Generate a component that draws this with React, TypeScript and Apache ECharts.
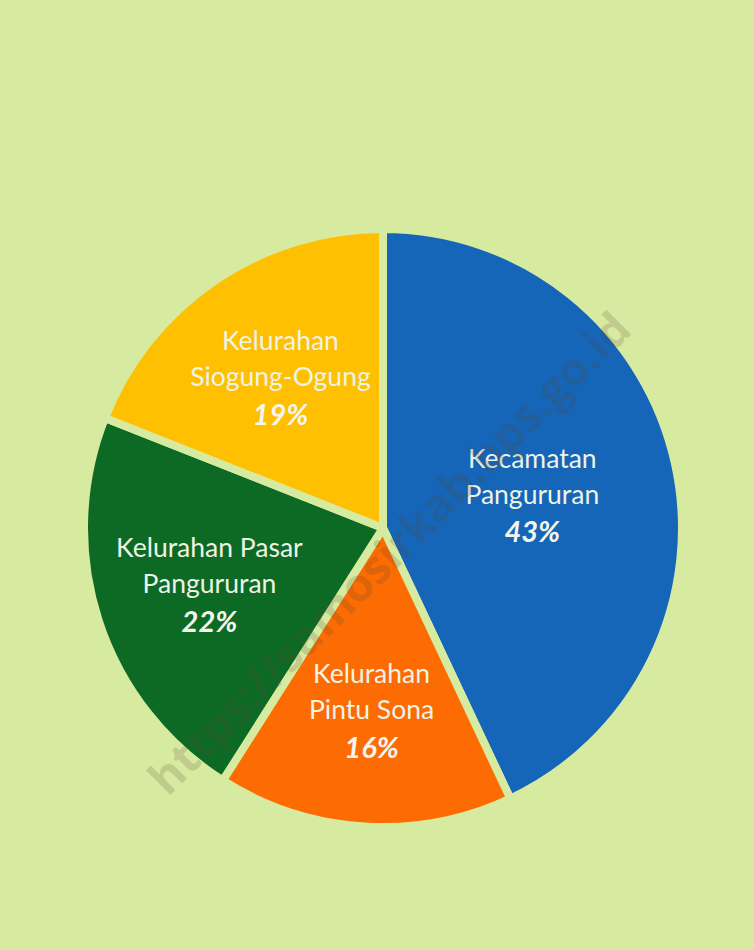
import React, { useEffect, useRef } from "react";
import * as echarts from "echarts";

const categories = [
  "Kecamatan\nPangururan",
  "Kelurahan\nPintu Sona",
  "Kelurahan Pasar\nPangururan",
  "Kelurahan\nSiogung-Ogung",
];
const values = [43, 16, 22, 19];
const colors = ["#1565b8", "#fd6b03", "#0d6a25", "#fec000"];
const watermark = "https://samosirkab.bps.go.id";
const BG = "#d7eba0";

export default function App() {
  const ref = useRef<HTMLDivElement>(null);
  useEffect(() => {
    document.body.style.margin = "0";
    const chart = echarts.init(ref.current!, null, { renderer: "svg" });
    const center = [383, 528];
    const labelRich = {
      n: { fontFamily: "Lato", fontSize: 26.5, color: "#eef3e6", lineHeight: 36, align: "center" },
      p: { fontFamily: "Lato", fontSize: 29, fontWeight: "bold", fontStyle: "italic", color: "#f4f6ee", lineHeight: 38, align: "center" },
    };
    const labelData = (showIdx: (i: number) => boolean) =>
      categories.map((c, i) => ({
        name: c,
        value: values[i],
        label: { show: showIdx(i) },
      }));
    const fmt = (p: any) => `{n|${p.name.replace("\n", "}\n{n|")}}\n{p|${p.value}%}`;
    chart.setOption({
      animation: false,
      backgroundColor: BG,
      series: [
        {
          type: "pie",
          center,
          radius: [0, 299],
          startAngle: 90,
          clockwise: true,
          silent: true,
          label: { show: false },
          labelLine: { show: false },
          itemStyle: { borderColor: BG, borderWidth: 8 },
          data: categories.map((c, i) => ({ name: c, value: values[i], itemStyle: { color: colors[i] } })),
        },
        {
          type: "pie",
          center,
          radius: [120, 180],
          startAngle: 90,
          silent: true,
          itemStyle: { color: "transparent" },
          labelLine: { show: false },
          label: { position: "inside", formatter: fmt, rich: labelRich },
          data: labelData((i) => i === 0),
        },
        {
          type: "pie",
          center,
          radius: [140, 219],
          startAngle: 90,
          silent: true,
          itemStyle: { color: "transparent" },
          labelLine: { show: false },
          label: { position: "inside", formatter: fmt, rich: labelRich },
          data: labelData((i) => i !== 0),
        },
      ],
      graphic: [
        {
          type: "text",
          x: 388,
          y: 552,
          rotation: Math.PI / 4,
          z: 100,
          silent: true,
          style: {
            text: watermark,
            fontFamily: "Open Sans",
            fontWeight: "bold",
            fontSize: 46,
            fill: "rgba(90,70,50,0.2)",
            textAlign: "center",
            textVerticalAlign: "middle",
          },
        },
      ],
    });
    return () => chart.dispose();
  }, []);
  return <div ref={ref} style={{ width: 754, height: 950 }} />;
}
